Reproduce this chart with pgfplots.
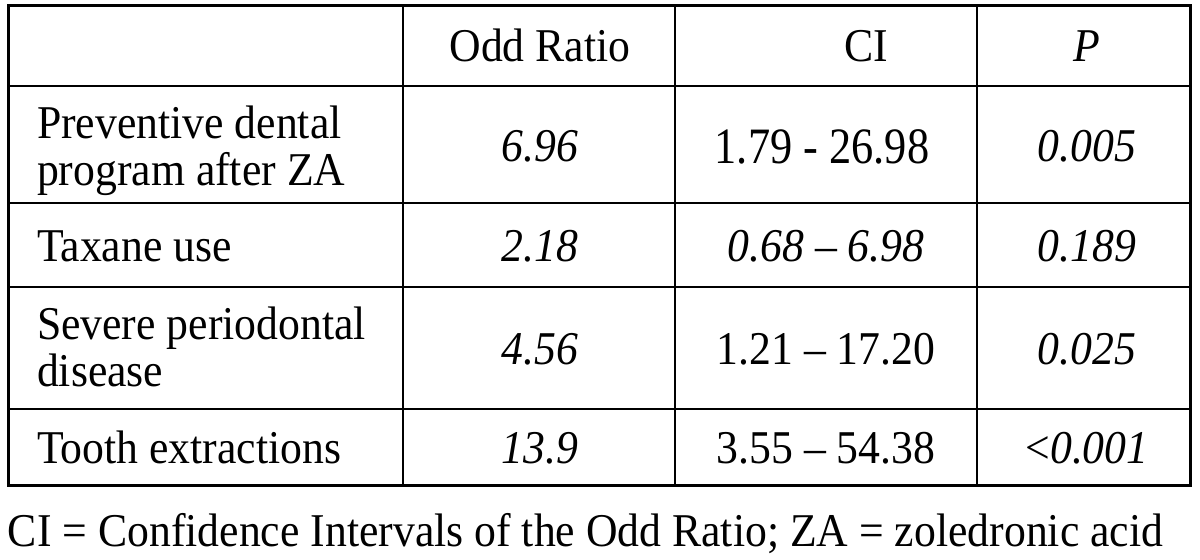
\documentclass[border=0pt]{standalone}
\usepackage{pgfplots}
\pgfplotsset{compat=1.18}
\usepackage{graphicx}
\usepackage{fontspec}
\setmainfont{Liberation Serif}
\newcommand{\sq}[1]{{\fontsize{23.5}{28}\selectfont\scalebox{0.93}[1]{#1}}}
\begin{document}
\begin{tikzpicture}
\begin{axis}[
  width=600pt, height=279.5pt, scale only axis,
  xmin=0, xmax=1200, ymin=0, ymax=559, y dir=reverse,
  hide axis, clip=false,
]
\path (axis cs:0,0) rectangle (axis cs:1200,559);
% table rules
\addplot[black, line width=1.5pt, line join=miter] coordinates {(8,5) (1190,5) (1190,485) (8,485) (8,5)} -- cycle;
\addplot[black, line width=1.4pt] coordinates {(8,86) (1190,86)};
\addplot[black, line width=1.4pt] coordinates {(8,203) (1190,203)};
\addplot[black, line width=1.4pt] coordinates {(8,287) (1190,287)};
\addplot[black, line width=1.4pt] coordinates {(8,409) (1190,409)};
\addplot[black, line width=1.4pt] coordinates {(403,5) (403,485)};
\addplot[black, line width=1.4pt] coordinates {(675,5) (675,485)};
\addplot[black, line width=1.4pt] coordinates {(977,5) (977,485)};
\tikzset{every node/.append style={inner sep=0pt, outer sep=0pt}}
% header
\node[anchor=base] at (axis cs:540,61) {\sq{Odd Ratio}};
\node[anchor=base] at (axis cs:866,61) {\sq{CI}};
\node[anchor=base] at (axis cs:1087,61) {\sq{\textit{P}}};
% row 1
\node[anchor=base west] at (axis cs:37,138) {\sq{Preventive dental}};
\node[anchor=base west] at (axis cs:37,185) {\sq{program after ZA}};
\node[anchor=base] at (axis cs:540,161) {\sq{\textit{6.96}}};
\node[anchor=base] at (axis cs:822,163) {\fontsize{25.5}{30}\selectfont\scalebox{0.87}[1]{1.79 - 26.98}};
\node[anchor=base] at (axis cs:1087,161) {\sq{\textit{0.005}}};
% row 2
\node[anchor=base west] at (axis cs:37,261) {\sq{Taxane use}};
\node[anchor=base] at (axis cs:540,261) {\sq{\textit{2.18}}};
\node[anchor=base] at (axis cs:826,261) {\sq{\textit{0.68 – 6.98}}};
\node[anchor=base] at (axis cs:1087,261) {\sq{\textit{0.189}}};
% row 3
\node[anchor=base west] at (axis cs:37,339) {\sq{Severe periodontal}};
\node[anchor=base west] at (axis cs:37,386) {\sq{disease}};
\node[anchor=base] at (axis cs:540,364) {\sq{\textit{4.56}}};
\node[anchor=base] at (axis cs:826,364) {\sq{1.21 – 17.20}};
\node[anchor=base] at (axis cs:1087,364) {\sq{\textit{0.025}}};
% row 4
\node[anchor=base west] at (axis cs:37,463) {\sq{Tooth extractions}};
\node[anchor=base] at (axis cs:540,463) {\sq{\textit{13.9}}};
\node[anchor=base] at (axis cs:826,463) {\sq{3.55 – 54.38}};
\node[anchor=base] at (axis cs:1087,463) {\sq{{\upshape <}\textit{0.001}}};
% footnote
\node[anchor=base west] at (axis cs:8,546) {\sq{CI = Confidence Intervals of the Odd Ratio; ZA = zoledronic acid}};
\end{axis}
\end{tikzpicture}
\end{document}
